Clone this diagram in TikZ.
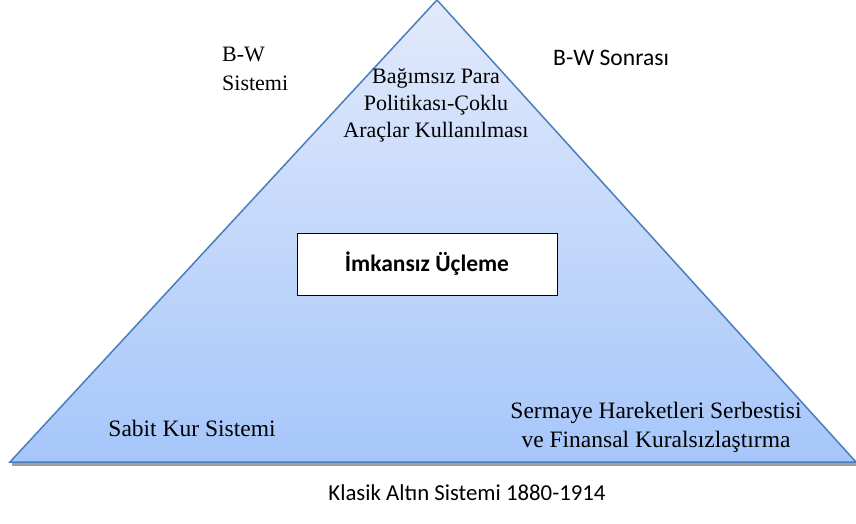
\documentclass[tikz,border=0pt]{standalone}
\usepackage{fontspec}
\setmainfont{Liberation Serif}
\newfontfamily\calibri{Carlito}
\definecolor{triTop}{RGB}{226,234,251}
\definecolor{triBot}{RGB}{166,198,250}
\definecolor{triEdge}{RGB}{74,126,187}
\definecolor{shadowgray}{RGB}{160,160,160}
\begin{document}
\begin{tikzpicture}[x=1pt,y=-1pt,
  serif/.style={font=\fontsize{22}{27}\selectfont, inner sep=0pt},
  serifbw/.style={font=\fontsize{22}{28.5}\selectfont, inner sep=0pt},
  serifbig/.style={font=\fontsize{23.5}{29}\selectfont, inner sep=0pt},
  sans/.style={font=\calibri\fontsize{22.8}{27}\selectfont, inner sep=0pt}]
\useasboundingbox (0,0) rectangle (856,524);
% corners
\coordinate (apex) at (437,0);
\coordinate (bl) at (10,462);
\coordinate (br) at (856,462);
% shadow
\fill[shadowgray] (12,462) rectangle (856,466);
% triangle
\shade[top color=triTop, bottom color=triBot] (apex) -- (bl) -- (br) -- cycle;
\draw[triEdge, line width=1.5pt, line join=miter] (apex) -- (bl) -- (br) -- cycle;
% central box
\node[draw=black, fill=white, line width=1pt, minimum width=260pt, minimum height=62pt,
      font=\calibri\bfseries\fontsize{23.5}{27}\selectfont] (box) at (427,264) {İmkansız Üçleme};
% labels
\node[serif, align=center] (top) at (436,105) {Bağımsız Para\\Politikası-Çoklu\\Araçlar Kullanılması};
\node[serifbw, align=left, anchor=west] (bw) at (222,69) {B-W\\Sistemi};
\node[sans, anchor=west, font=\calibri\fontsize{23.6}{27}\selectfont] (bws) at (553,58) {B-W Sonrası};
\node[serifbig] (sabit) at (192,428) {Sabit Kur Sistemi};
\node[serifbig, align=center] (serm) at (656,427) {Sermaye Hareketleri Serbestisi\\ve Finansal Kuralsızlaştırma};
\node[sans] (klasik) at (467,493) {Klasik Altın Sistemi 1880-1914};
\end{tikzpicture}
\end{document}
